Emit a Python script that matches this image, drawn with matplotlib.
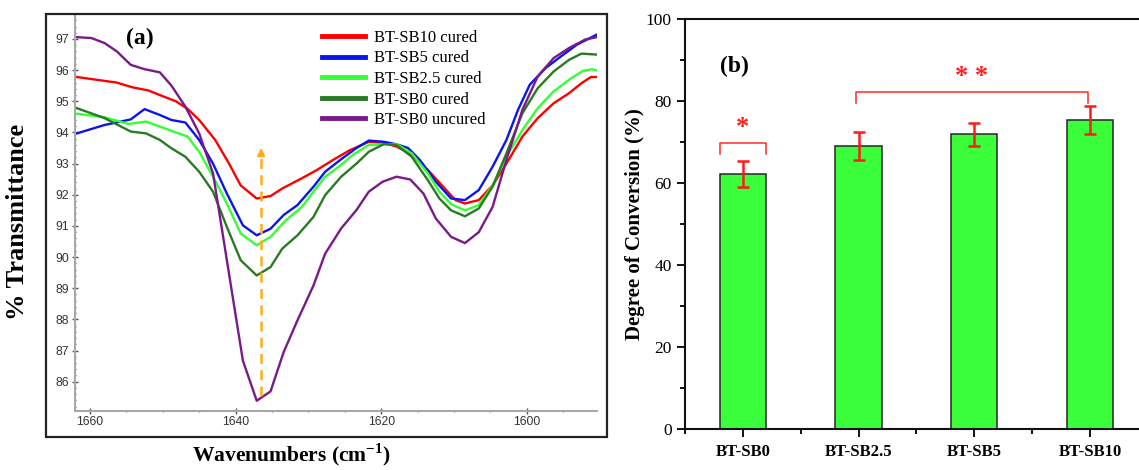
import matplotlib
matplotlib.use("Agg")
import matplotlib.pyplot as plt
from matplotlib.ticker import MultipleLocator, FixedLocator
from matplotlib.patches import Rectangle

# ---------------- data: panel (a) FTIR spectra ----------------
wn_red = [1661.8, 1656.3, 1654.2, 1652.0, 1650.4, 1648.2, 1646.6, 1645.0, 1642.8, 1640.9, 1639.3, 1637.1,
          1635.2, 1633.6, 1630.9, 1628.8, 1626.6, 1624.4, 1621.7, 1619.8, 1617.9, 1615.8, 1613.6, 1611.5,
          1609.8, 1608.5, 1606.6, 1604.7, 1602.8, 1600.6, 1598.5, 1596.3, 1594.2, 1592.5, 1591.2, 1590.4]
t_red = [95.78, 95.60, 95.45, 95.35, 95.20, 95.00, 94.76, 94.40, 93.76, 93.00, 92.30, 91.88,
         91.96, 92.20, 92.53, 92.80, 93.12, 93.42, 93.70, 93.67, 93.55, 93.28, 92.80, 92.26,
         91.83, 91.72, 91.83, 92.30, 93.00, 93.87, 94.46, 94.94, 95.26, 95.58, 95.78, 95.78]

wn_blue = [1661.8, 1658.0, 1654.4, 1652.5, 1650.4, 1648.8, 1646.9, 1645.0, 1643.1, 1641.2, 1639.0, 1637.1,
           1635.2, 1633.4, 1631.5, 1629.3, 1627.7, 1625.5, 1623.4, 1621.7, 1619.6, 1617.9, 1616.3, 1614.7,
           1612.5, 1610.4, 1608.5, 1606.6, 1604.7, 1602.8, 1601.2, 1599.6, 1597.4, 1595.2, 1593.1, 1590.4]
t_blue = [93.97, 94.24, 94.42, 94.75, 94.56, 94.40, 94.32, 93.76, 93.00, 92.04, 91.02, 90.70,
          90.91, 91.35, 91.67, 92.26, 92.74, 93.14, 93.50, 93.74, 93.70, 93.62, 93.50, 93.12,
          92.42, 91.88, 91.83, 92.15, 92.90, 93.76, 94.73, 95.53, 96.07, 96.46, 96.82, 97.14]

wn_lgreen = [1661.8, 1658.0, 1654.7, 1652.3, 1650.4, 1648.2, 1646.6, 1645.0, 1643.1, 1641.2, 1639.3, 1637.1,
             1635.2, 1633.1, 1630.9, 1629.3, 1627.7, 1625.5, 1623.9, 1621.7, 1617.9, 1615.8, 1613.6, 1612.0,
             1610.4, 1608.5, 1606.6, 1604.7, 1602.8, 1600.6, 1598.5, 1596.3, 1594.2, 1592.3, 1591.0, 1590.4]
t_lgreen = [94.60, 94.49, 94.27, 94.35, 94.19, 94.00, 93.87, 93.38, 92.58, 91.72, 90.76, 90.38,
            90.65, 91.18, 91.61, 92.10, 92.58, 92.96, 93.28, 93.60, 93.63, 93.33, 92.69, 92.10,
            91.70, 91.50, 91.67, 92.30, 93.22, 94.08, 94.78, 95.32, 95.69, 95.98, 96.03, 95.99]

wn_dgreen = [1661.8, 1658.0, 1654.4, 1652.3, 1650.4, 1648.8, 1646.9, 1645.0, 1643.1, 1641.2, 1639.3, 1637.1,
             1635.2, 1633.6, 1631.5, 1629.3, 1627.7, 1625.5, 1623.4, 1621.7, 1619.6, 1617.9, 1615.8, 1613.6,
             1612.0, 1610.4, 1608.5, 1606.6, 1604.7, 1602.8, 1600.6, 1598.5, 1596.3, 1594.2, 1592.5, 1590.4]
t_dgreen = [94.78, 94.46, 94.03, 93.97, 93.76, 93.49, 93.22, 92.74, 92.10, 90.97, 89.90, 89.41,
            89.68, 90.27, 90.70, 91.29, 91.99, 92.58, 93.00, 93.38, 93.63, 93.60, 93.22, 92.47,
            91.88, 91.50, 91.31, 91.56, 92.26, 93.33, 94.62, 95.42, 95.96, 96.33, 96.53, 96.50]

wn_purple = [1661.8, 1659.8, 1658.0, 1656.3, 1654.4, 1652.5, 1650.4, 1648.8, 1646.9, 1645.0, 1643.1, 1641.2,
             1639.0, 1637.1, 1635.2, 1633.4, 1631.5, 1629.3, 1627.7, 1625.5, 1623.4, 1621.7, 1619.8, 1617.9,
             1616.0, 1614.2, 1612.5, 1610.4, 1608.5, 1606.6, 1604.7, 1602.8, 1600.6, 1598.5, 1596.3, 1594.2,
             1592.0, 1590.4]
t_purple = [97.06, 97.03, 96.87, 96.60, 96.17, 96.03, 95.93, 95.50, 94.83, 93.97, 92.69, 89.90,
            86.68, 85.39, 85.69, 86.95, 87.97, 89.09, 90.11, 90.92, 91.51, 92.10, 92.42, 92.58,
            92.49, 92.04, 91.24, 90.65, 90.45, 90.80, 91.61, 93.12, 94.73, 95.80, 96.39, 96.71,
            96.98, 97.06]

series_labels = ["BT-SB10 cured", "BT-SB5 cured", "BT-SB2.5 cured", "BT-SB0 cured", "BT-SB0 uncured"]
series_colors = ["#ff0000", "#0a14f0", "#33ff33", "#2a7a22", "#7a1a8a"]

arrow_x = 1636.5
arrow_y0, arrow_y1 = 85.55, 93.6

# ---------------- data: panel (b) degree of conversion ----------------
samples = ["BT-SB0", "BT-SB2.5", "BT-SB5", "BT-SB10"]
doc_mean = [62.2, 69.1, 71.9, 75.4]
doc_err = [3.2, 3.35, 2.85, 3.4]
# significance brackets: (x_start, x_end, top_y, leg_bottom_y, label)
brackets = [(-0.2, 0.2, 69.9, 67.1, "*"), (0.98, 2.98, 82.2, 79.6, "* *")]

# ---------------- figure ----------------
W, H = 1139, 470
fig = plt.figure(figsize=(W / 100, H / 100), dpi=100)
fig.patch.set_facecolor("white")

SERIF = "Liberation Serif"
SANS = "Liberation Sans"
plt.rcParams["mathtext.fontset"] = "custom"
plt.rcParams["mathtext.rm"] = "Liberation Serif:bold"
plt.rcParams["mathtext.bf"] = "Liberation Serif:bold"

def fx(px):
    return px / W

def fy(py):
    return 1 - py / H

# outer frame of panel (a)
fig.patches.append(Rectangle((fx(46), fy(437)), fx(607) - fx(46), fy(14) - fy(437),
                             transform=fig.transFigure, fill=False, edgecolor="#222222", lw=1.6))

axa = fig.add_axes([fx(74.7), fy(410.7), fx(596.7) - fx(74.7), fy(15) - fy(410.7)])
xs = [wn_red, wn_blue, wn_lgreen, wn_dgreen, wn_purple]
ys = [t_red, t_blue, t_lgreen, t_dgreen, t_purple]
for x, y, lab, c in zip(xs, ys, series_labels, series_colors):
    axa.plot(x, y, color=c, lw=1.7, label=lab)

axa.plot([arrow_x, arrow_x], [arrow_y0, arrow_y1 - 0.4], color="#ffae1a", lw=1.8, ls=(0, (4, 2.5)))
axa.annotate("", xy=(arrow_x, arrow_y1), xytext=(arrow_x, arrow_y1 - 0.45),
             arrowprops=dict(arrowstyle="-|>", color="#ffae1a", lw=1.5, mutation_scale=11))

axa.set_xlim(1662.1, 1590.4)
axa.set_ylim(85.07, 97.77)
for s in ["top", "right"]:
    axa.spines[s].set_visible(False)
for s in ["left", "bottom"]:
    axa.spines[s].set_color("#a8a8a8")
    axa.spines[s].set_linewidth(1.5)
axa.xaxis.set_major_locator(MultipleLocator(20))
axa.xaxis.set_minor_locator(MultipleLocator(5))
axa.yaxis.set_major_locator(MultipleLocator(1))
axa.yaxis.set_minor_locator(MultipleLocator(0.2))
axa.set_yticks(range(86, 98))
axa.tick_params(axis="both", which="major", direction="inout", length=4, width=1, color="#555555",
                labelsize=8.7, labelcolor="#333333", pad=2)
axa.tick_params(axis="both", which="minor", direction="inout", length=2, width=1, color="#666666")
for lbl in axa.get_xticklabels() + axa.get_yticklabels():
    lbl.set_fontfamily(SANS)

axa.text(1653.1, 97.03, "(a)", fontsize=17, fontweight="bold", family=SERIF, ha="center", va="center")

leg = axa.legend(loc="upper left", bbox_to_anchor=(fx(322), fy(30)), bbox_transform=fig.transFigure,
                 frameon=False, prop=dict(family=SERIF, size=12), handlelength=2.55, handletextpad=0.55,
                 labelspacing=0.27, borderpad=0, borderaxespad=0)
for h in leg.get_lines():
    h.set_linewidth(3.5)

fig.text(fx(18), fy(222), "% Transmittance", rotation=90, ha="center", va="center",
         fontsize=19, fontweight="bold", family=SERIF)
fig.text(fx(291), fy(468), "Wavenumbers (cm$^{-1}$)", ha="center", va="bottom",
         fontsize=15.5, fontweight="bold", family=SERIF)

# ---------------- panel (b) ----------------
axb = fig.add_axes([fx(685), fy(429), (1147.9 - 685) / W, fy(19.3) - fy(429)])
pos = list(range(len(samples)))
axb.bar(pos, doc_mean, width=0.4, color="#3aff3a", edgecolor="#262626", lw=1.1, zorder=2)
axb.errorbar(pos, doc_mean, yerr=doc_err, fmt="none", ecolor="#ff1a1a", elinewidth=1.8,
             capsize=4, capthick=1.8, zorder=3)
for x1, x2, ytop, ybot, lab in brackets:
    axb.plot([x1, x1, x2, x2], [ybot, ytop, ytop, ybot], color="#ff2a2a", lw=1.1, zorder=3)
    axb.text((x1 + x2) / 2, ytop + 1.0, lab, color="#ff2020", fontsize=19, family=SERIF,
             fontweight="bold", ha="center", va="bottom")

axb.set_xlim(-0.5, 3.5)
axb.set_ylim(0, 100)
axb.set_xticks(pos)
axb.set_xticklabels(samples)
axb.xaxis.set_minor_locator(FixedLocator([-0.5, 0.5, 1.5, 2.5, 3.5]))
axb.yaxis.set_major_locator(MultipleLocator(20))
axb.yaxis.set_minor_locator(MultipleLocator(10))
for s in axb.spines.values():
    s.set_linewidth(1.5)
    s.set_color("#111111")
axb.tick_params(axis="y", which="major", direction="out", length=6, width=1.3, labelsize=12.5)
axb.tick_params(axis="x", which="major", direction="out", length=6, width=1.3, labelsize=12, pad=5)
axb.tick_params(axis="both", which="minor", direction="out", length=3.5, width=1.3)
for lbl in axb.get_xticklabels():
    lbl.set_fontfamily(SERIF)
    lbl.set_fontweight("bold")
for lbl in axb.get_yticklabels():
    lbl.set_fontfamily(SERIF)
axb.text(-0.07, 88.5, "(b)", fontsize=17, fontweight="bold", family=SERIF, ha="center", va="center")

fig.text(fx(635), fy(224), "Degree of Conversion (%)", rotation=90, ha="center", va="center",
         fontsize=15, fontweight="bold", family=SERIF)

fig.savefig("out.png", dpi=100, facecolor="white")
